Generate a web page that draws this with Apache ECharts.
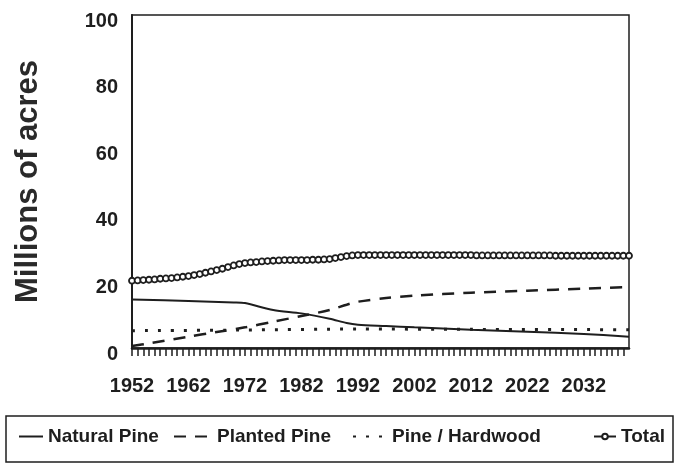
<!DOCTYPE html>
<html>
<head>
<meta charset="utf-8">
<script src="https://cdn.jsdelivr.net/npm/echarts@6/dist/echarts.min.js"></script>
<style>
  html, body { margin: 0; padding: 0; background: #fff; }
  #chart { width: 678px; height: 466px; }
</style>
</head>
<body>
<div id="chart"></div>
<script>
// 数据
const naturalYears = [1952, 1962, 1970, 1972, 1977, 1982, 1987, 1990, 1992, 1997, 2002, 2012, 2022, 2032, 2040]
const naturalVals  = [14.6, 14.1, 13.7, 13.5, 11.4, 10.4, 8.8, 7.5, 7.0, 6.6, 6.2, 5.5, 4.9, 4.2, 3.4]

const plantedYears = [1952, 1955, 1962, 1967, 1972, 1977, 1982, 1987, 1990, 1992, 1997, 2002, 2012, 2022, 2032, 2040]
const plantedVals  = [0.6, 1.4, 3.4, 4.8, 6.2, 7.9, 9.6, 11.4, 13.0, 13.9, 15.0, 15.7, 16.6, 17.2, 17.8, 18.3]

const hardwoodYears = [1952, 1972, 1992, 2012, 2040]
const hardwoodVals  = [5.2, 5.4, 5.7, 5.6, 5.5]

// Total：每年一个点
const totalVals = [
  20.2, 20.3, 20.4, 20.5, 20.6, 20.8, 20.9, 21.0, 21.2, 21.4,
  21.6, 21.9, 22.2, 22.6, 23.0, 23.4, 23.8, 24.3, 24.8, 25.2,
  25.5, 25.7, 25.8, 26.0, 26.1, 26.2, 26.3, 26.4, 26.4, 26.4,
  26.4, 26.4, 26.5, 26.5, 26.6, 26.7, 27.0, 27.3, 27.6, 27.8,
  27.9, 27.9, 27.9, 27.9, 27.9, 27.9, 27.9, 27.9, 27.9, 27.9,
  27.9, 27.9, 27.9, 27.9, 27.9, 27.9, 27.9, 27.9, 27.9, 27.9,
  27.9, 27.8, 27.8, 27.8, 27.8, 27.8, 27.8, 27.8, 27.8, 27.8,
  27.8, 27.8, 27.8, 27.8, 27.8, 27.7, 27.7, 27.7, 27.7, 27.7,
  27.7, 27.7, 27.7, 27.7, 27.7, 27.7, 27.7, 27.7, 27.7
]
const firstYear = 1952
const lastYear = 2040

const yTicks = [0, 20, 40, 60, 80, 100]

const pair = (xs, ys) => xs.map((x, i) => [x, ys[i]])
const totalData = totalVals.map((v, i) => [firstYear + i, v])

const FONT = '"Liberation Sans", Arial, sans-serif'
const INK = '#1e1e1e'

const chart = echarts.init(document.getElementById('chart'))

const legendText = { fontFamily: FONT, fontWeight: 'bold', fontSize: 19, color: INK }
const makeLegend = (name, left, width, showSymbol) => ({
  data: [name],
  left: left,
  top: 427,
  itemWidth: width,
  itemHeight: showSymbol ? 7 : 10,
  itemGap: 0,
  padding: 0,
  itemStyle: showSymbol ? {} : { opacity: 0 },
  textStyle: legendText
})

const option = {
  backgroundColor: '#fff',
  animation: false,
  grid: {
    left: 132, right: 49, top: 15, bottom: 118,
    show: true, borderColor: INK, borderWidth: 1.5, backgroundColor: 'transparent'
  },
  xAxis: {
    type: 'value',
    min: firstYear,
    max: lastYear,
    interval: 1,
    axisLine: { show: true, lineStyle: { color: INK, width: 2.5 } },
    axisTick: { show: true, length: 8, lineStyle: { color: INK, width: 1.5 } },
    splitLine: { show: false },
    axisLabel: {
      margin: 28,
      fontFamily: FONT, fontWeight: 'bold', fontSize: 20, color: INK,
      showMaxLabel: false,
      formatter: (v) => ((v - firstYear) % 10 === 0 ? String(v) : '')
    }
  },
  yAxis: {
    type: 'value',
    min: yTicks[0],
    max: yTicks[yTicks.length - 1],
    interval: 20,
    name: 'Millions of acres',
    nameLocation: 'middle',
    nameGap: 88,
    nameTextStyle: { fontFamily: FONT, fontWeight: 'bold', fontSize: 31, color: '#2a2a2a' },
    axisLine: { show: true, lineStyle: { color: INK, width: 2 } },
    axisTick: { show: false },
    splitLine: { show: false },
    axisLabel: {
      margin: 14,
      verticalAlign: 'top',
      lineHeight: 12,
      fontFamily: FONT, fontWeight: 'bold', fontSize: 20, color: INK
    }
  },
  legend: [
    makeLegend('Natural Pine', 18, 24, false),
    makeLegend('Planted Pine', 173, 38, false),
    makeLegend('Pine / Hardwood', 352, 34, false),
    makeLegend('Total', 593, 22, true)
  ],
  graphic: [{
    type: 'rect',
    shape: { x: 6, y: 416, width: 667, height: 46 },
    style: { fill: 'transparent', stroke: INK, lineWidth: 1.5 },
    z: -1
  }],
  series: [
    {
      name: 'Natural Pine',
      type: 'line',
      data: pair(naturalYears, naturalVals),
      smooth: 0.3,
      symbol: 'none',
      lineStyle: { color: INK, width: 2 },
      itemStyle: { color: INK }
    },
    {
      name: 'Planted Pine',
      type: 'line',
      data: pair(plantedYears, plantedVals),
      smooth: 0.3,
      symbol: 'none',
      lineStyle: { color: INK, width: 2.5, type: [12, 9] },
      itemStyle: { color: INK }
    },
    {
      name: 'Pine / Hardwood',
      type: 'line',
      data: pair(hardwoodYears, hardwoodVals),
      smooth: 0.3,
      symbol: 'none',
      lineStyle: { color: INK, width: 3, type: [3, 10] },
      itemStyle: { color: INK }
    },
    {
      name: 'Total',
      type: 'line',
      data: totalData,
      symbol: 'circle',
      symbolSize: 6,
      showAllSymbol: true,
      lineStyle: { color: INK, width: 2 },
      itemStyle: { color: '#fff', borderColor: INK, borderWidth: 1.8 }
    }
  ]
}

chart.setOption(option)
</script>
</body>
</html>
